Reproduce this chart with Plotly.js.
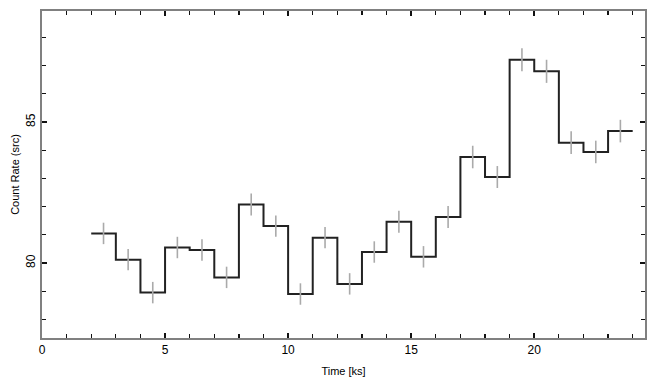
<!DOCTYPE html>
<html>
<head>
<meta charset="utf-8">
<script src="https://cdn.plot.ly/plotly-3.0.1.min.js"></script>
<style>html,body{margin:0;padding:0;background:#fff;}#chart{width:655px;height:385px;}</style>
</head>
<body>
<div id="chart"></div>
<script>
// Bin centres (ks)
const timeCenters = [2.5,3.5,4.5,5.5,6.5,7.5,8.5,9.5,10.5,11.5,12.5,13.5,14.5,15.5,16.5,17.5,18.5,19.5,20.5,21.5,22.5,23.5];
// Count rate (src)
const rates = [81.05,80.12,78.95,80.55,80.46,79.49,82.08,81.31,78.90,80.90,79.26,80.39,81.46,80.22,81.63,83.76,83.05,87.21,86.80,84.27,83.94,84.68];
// 1-sigma errors
const errors = [0.38,0.38,0.38,0.38,0.38,0.38,0.39,0.38,0.38,0.38,0.38,0.38,0.39,0.38,0.39,0.40,0.39,0.41,0.41,0.40,0.40,0.40];
const binHalfWidth = 0.5;

const edges = timeCenters.map(t => t - binHalfWidth).concat([timeCenters[timeCenters.length-1] + binHalfWidth]);
const stepY = rates.concat([rates[rates.length-1]]);

const errTrace = {
  x: timeCenters, y: rates, mode: 'markers', type: 'scatter',
  marker: {size: 0.1, color: 'rgba(0,0,0,0)'},
  error_y: {type: 'data', array: errors, visible: true, color: '#aaaaaa', thickness: 1.6, width: 0},
  hoverinfo: 'skip', showlegend: false
};
const traces = [
  {
    x: edges, y: stepY, mode: 'lines', type: 'scatter',
    line: {shape: 'hv', color: '#222222', width: 2},
    showlegend: false
  },
  errTrace
];

const axisCommon = {
  showgrid: false, zeroline: false, showline: true, linecolor: '#808080', linewidth: 2,
  mirror: 'ticks', ticks: 'inside', ticklen: 5, tickwidth: 1.5, tickcolor: '#111111',
  tickfont: {family: 'Liberation Sans, Arial, sans-serif', size: 12, color: '#000'}
};

const layout = {
  width: 655, height: 385,
  margin: {l: 42, r: 10, t: 11, b: 47},
  paper_bgcolor: '#fff', plot_bgcolor: '#fff',
  font: {family: 'Liberation Sans, Arial, sans-serif', size: 12, color: '#000'},
  xaxis: Object.assign({}, axisCommon, {
    range: [0, 24.5], dtick: 5, tick0: 0,
    minor: {dtick: 1, ticks: 'inside', ticklen: 4, tickwidth: 1.2, tickcolor: '#111111'},
    title: {text: 'Time [ks]', font: {size: 11}, standoff: 11}
  }),
  yaxis: Object.assign({}, axisCommon, {
    range: [77.34, 88.94], dtick: 5, tick0: 0, tickangle: -90,
    minor: {dtick: 1, ticks: 'inside', ticklen: 4, tickwidth: 1.2, tickcolor: '#111111'},
    title: {text: 'Count Rate (src)', font: {size: 11}, standoff: 2}
  })
};

Plotly.newPlot('chart', traces, layout, {displayModeBar: false, staticPlot: true});
</script>
</body>
</html>
